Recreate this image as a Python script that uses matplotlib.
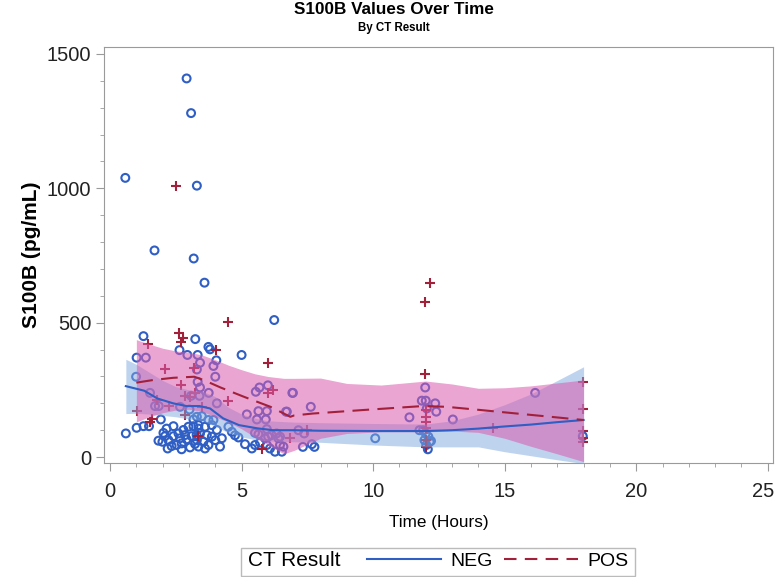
import matplotlib
matplotlib.use("Agg")
import matplotlib.pyplot as plt
from matplotlib.lines import Line2D
from matplotlib.patches import Rectangle
from matplotlib.ticker import MultipleLocator
from matplotlib.transforms import ScaledTranslation

plt.rcParams['font.family'] = ['Liberation Sans', 'DejaVu Sans']

# CT negative patients (hours, pg/mL)
neg_t = [2.91, 3.08, 0.58, 3.30, 1.69, 3.18, 3.59, 6.24, 1.27, 3.24,
         2.64, 3.74, 3.80, 2.94, 3.33, 1.01, 1.36, 4.04, 5.00, 3.42,
         3.93, 3.30, 4.00, 0.99, 3.33, 3.42, 1.52, 5.68, 6.00, 5.54,
         6.95, 3.08, 3.40, 3.75, 1.71, 1.85, 2.66, 3.02, 4.06, 5.64,
         5.96, 5.20, 5.58, 5.92, 6.72, 0.60, 1.01, 1.27, 1.48, 1.93,
         2.15, 2.41, 2.03, 1.84, 1.99, 2.22, 2.41, 2.60, 2.79, 2.98,
         3.17, 3.36, 2.34, 2.53, 2.72, 2.91, 3.10, 3.29, 2.19, 2.72,
         3.04, 3.23, 2.85, 2.66, 2.09, 3.17, 3.30, 3.49, 3.74, 3.93,
         4.06, 3.36, 3.61, 3.87, 3.42, 3.68, 3.87, 3.30, 3.55, 3.74,
         4.00, 4.25, 4.18, 3.36, 3.61, 4.50, 4.63, 4.75, 4.88, 5.13,
         5.39, 5.51, 5.70, 5.89, 6.01, 6.14, 5.96, 6.08, 6.27, 6.40,
         6.46, 5.51, 5.64, 5.96, 6.33, 6.59, 6.46, 6.53, 6.93, 6.69,
         7.63, 7.16, 7.38, 7.33, 7.67, 7.77, 10.08, 11.38, 11.76, 11.98,
         11.85, 12.00, 12.36, 12.40, 12.04, 13.03, 12.00, 12.10, 11.95, 12.15,
         12.02, 12.08, 11.90, 12.20, 16.16, 17.97]
neg_v = [1409, 1280, 1039, 1010, 769, 739, 649, 510, 450, 439,
         398, 410, 401, 380, 380, 370, 370, 360, 380, 351,
         339, 326, 299, 299, 280, 259, 239, 259, 267, 243,
         239, 228, 228, 239, 190, 190, 187, 177, 200, 171,
         171, 159, 140, 140, 169, 88, 109, 115, 115, 140,
         106, 115, 90, 61, 57, 63, 78, 88, 101, 113,
         115, 106, 41, 45, 51, 66, 78, 82, 32, 29,
         36, 49, 82, 70, 78, 140, 150, 152, 138, 138,
         101, 119, 113, 119, 88, 82, 76, 63, 57, 45,
         63, 70, 39, 39, 32, 113, 94, 81, 73, 48,
         32, 45, 54, 70, 76, 82, 45, 32, 20, 70,
         45, 90, 85, 104, 88, 39, 76, 20, 239, 169,
         187, 100, 88, 38, 48, 38, 70, 148, 100, 259,
         210, 210, 200, 169, 181, 140, 88, 76, 63, 57,
         45, 29, 100, 60, 239, 78]

# CT positive patients
pos_t = [2.51, 4.49, 2.61, 2.76, 2.70, 1.46, 4.03, 6.00, 2.10, 3.21,
         2.69, 6.21, 6.02, 2.83, 3.04, 3.23, 1.77, 4.50, 2.24, 2.85,
         3.49, 1.01, 1.58, 1.52, 3.33, 5.77, 6.84, 7.48, 12.17, 11.98,
         11.98, 12.00, 12.00, 12.00, 12.00, 12.00, 12.00, 14.55, 17.97, 17.97,
         17.97, 17.97, 17.97]
pos_v = [1010, 502, 460, 442, 429, 420, 398, 350, 327, 330,
         269, 249, 237, 227, 222, 237, 211, 209, 190, 156,
         187, 170, 142, 131, 80, 30, 70, 100, 649, 578,
         309, 175, 150, 131, 107, 63, 38, 109, 280, 179,
         98, 70, 57]

# smoothed fits
neg_fit_t = [0.6, 1.3, 1.8, 2.4, 2.9, 3.4, 3.8, 4.3, 4.9, 5.6,
             6.2, 7.0, 8.0, 10.0, 12.0, 13.0, 14.0, 15.0, 16.0, 17.0, 18.0]
neg_fit_v = [264, 247, 218, 200, 190, 190, 181, 144, 119, 107,
             100, 100, 98, 97, 97, 100, 106, 114, 121, 130, 138]
pos_fit_t = [1.0, 1.65, 2.4, 3.2, 3.55, 4.2, 5.1, 6.1, 6.85, 7.0,
             7.7, 9.6, 11.9, 12.8, 14.1, 16.0, 18.0]
pos_fit_v = [277, 287, 295, 299, 287, 259, 224, 187, 150, 155,
             162, 175, 190, 187, 175, 157, 138]

# confidence bands
neg_band_t = [0.6, 1.0, 1.5, 2.0, 2.5, 3.0, 3.5, 4.0, 4.5, 5.0, 5.5, 6.0,
              7.0, 8.0, 10.0, 12.0, 13.0, 14.0, 15.0, 16.0, 17.0, 18.0]
neg_band_hi = [364, 345, 315, 285, 262, 250, 245, 225, 185, 160, 145, 135,
               130, 128, 125, 123, 135, 160, 195, 235, 285, 336]
neg_band_lo = [162, 163, 160, 155, 150, 142, 135, 115, 90, 75, 65, 60,
               57, 55, 45, 38, 38, 38, 20, 5, -10, -24]
pos_band_t = [1.0, 1.5, 2.0, 2.5, 3.0, 3.5, 4.0, 4.5, 5.0, 5.5, 6.0, 6.6,
              7.0, 8.0, 9.0, 10.3, 12.0, 13.0, 14.0, 15.0, 16.0, 17.0, 18.0]
pos_band_hi = [437, 420, 405, 395, 390, 380, 362, 342, 325, 310, 300, 293,
               293, 294, 274, 268, 283, 272, 256, 258, 265, 276, 287]
pos_band_lo = [131, 150, 165, 175, 178, 170, 150, 130, 105, 75, 45, 12,
               25, 70, 88, 94, 94, 97, 92, 70, 40, 12, -17]

blue = '#2F5EC4'
red = '#A3203B'

fig = plt.figure(figsize=(7.77, 5.77), dpi=100)
ax = fig.add_axes([104 / 777, 1 - 463 / 577, (773 - 104) / 777, (463 - 47) / 577])

ax.scatter(neg_t, neg_v, s=32, facecolors='none', edgecolors=blue, linewidths=1.5, zorder=2)
ax.scatter(pos_t, pos_v, s=45, marker='+', color=red, linewidths=1.5, zorder=2)

ax.fill_between(neg_band_t, neg_band_lo, neg_band_hi, color='#7FA8DE', alpha=0.5, lw=0, zorder=3)
ax.fill_between(pos_band_t, pos_band_lo, pos_band_hi, color='#D95BAE', alpha=0.55, lw=0, zorder=3)

ax.plot(neg_fit_t, neg_fit_v, color=blue, lw=1.5, zorder=4)
ax.plot(pos_fit_t, pos_fit_v, color=red, lw=1.5, dashes=(8, 4), zorder=4)

ax.set_xlim(-0.23, 25.2)
ax.set_ylim(-22, 1526)
ax.xaxis.set_major_locator(MultipleLocator(5))
ax.xaxis.set_minor_locator(MultipleLocator(1))
ax.yaxis.set_major_locator(MultipleLocator(500))
ax.yaxis.set_minor_locator(MultipleLocator(100))

for sp in ax.spines.values():
    sp.set_color('#9A9A9A')
ax.tick_params(which='major', length=6, color='#9A9A9A', labelsize=14.5, labelcolor='#222222')
ax.tick_params(axis='x', which='major', pad=8)
ax.tick_params(axis='y', which='major', pad=3)
ax.tick_params(which='minor', length=3, color='#9A9A9A')

ax.set_xlabel('Time (Hours)', fontsize=12.3, labelpad=10)
ax.set_ylabel('S100B (pg/mL)', fontsize=15, fontweight='bold', labelpad=4)

# the "25" label sits on the figure edge, nudge it inside
fig.canvas.draw()
for tick in ax.xaxis.get_major_ticks():
    if abs(tick.get_loc() - 25) < 1e-6:
        lab = tick.label1
        lab.set_transform(lab.get_transform() + ScaledTranslation(-5 / 100, 0, fig.dpi_scale_trans))

fig.text(394 / 777, 1 - 10 / 577, 'S100B Values Over Time', ha='center', va='center',
         fontsize=12.3, fontweight='bold')
fig.text(394 / 777, 1 - 28 / 577, 'By CT Result', ha='center', va='center',
         fontsize=8.3, fontweight='bold')

# legend box with inline title
fig.patches.append(Rectangle((241 / 777, 1 - 576 / 577), (635 - 241) / 777, 28 / 577,
                             transform=fig.transFigure, fill=False, ec='#BBBBBB', lw=1))
fig.text(248 / 777, 1 - 561 / 577, 'CT Result', ha='left', va='center', fontsize=15)
handles = [Line2D([], [], color=blue, lw=1.5),
           Line2D([], [], color=red, lw=1.5, dashes=(6, 4))]
fig.legend(handles, ['NEG', 'POS'], ncol=2, frameon=False, fontsize=14,
           handlelength=3.8, columnspacing=0.55, handletextpad=0.5,
           loc='center left', bbox_to_anchor=(367 / 777, 1 - 561 / 577),
           borderaxespad=0, borderpad=0)

fig.savefig('out.png', dpi=100)
